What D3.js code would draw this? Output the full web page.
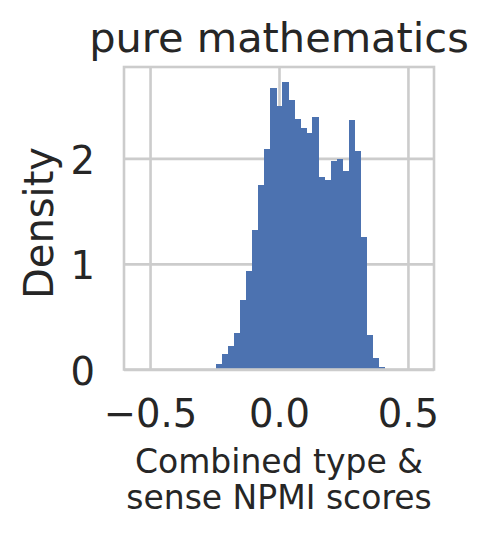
<!DOCTYPE html>
<html>
<head>
<meta charset="utf-8">
<script src="https://cdn.jsdelivr.net/npm/d3@7"></script>
<style>
  body { margin: 0; background: #fff; }
  text { font-family: "DejaVu Sans", sans-serif; fill: #262626; }
</style>
</head>
<body>
<svg id="chart" width="489" height="538"></svg>
<script>
// histogram bin edges (29 edges -> 28 bins)
const binEdges = [-0.2440, -0.2207, -0.1973, -0.1740, -0.1506, -0.1273, -0.1039, -0.0806,
                  -0.0572, -0.0339, -0.0105, 0.0129, 0.0362, 0.0596, 0.0829, 0.1063,
                  0.1296, 0.1530, 0.1763, 0.1997, 0.2230, 0.2464, 0.2697, 0.2931,
                  0.3164, 0.3398, 0.3631, 0.3865, 0.4098];
// density per bin
const densities = [0.054, 0.148, 0.218, 0.347, 0.662, 0.937, 1.322, 1.748,
                   2.088, 2.666, 2.495, 2.722, 2.552, 2.372, 2.287, 2.243,
                   2.391, 1.823, 1.795, 1.975, 1.994, 1.880, 2.363, 2.073,
                   1.259, 0.328, 0.110, 0.025];
const xTicks = [-0.5, 0.0, 0.5];
const yTicks = [0, 1, 2];
const title = "pure mathematics";
const yLabel = "Density";
const xLabelLines = ["Combined type &", "sense NPMI scores"];

const bins = densities.map((d, i) => ({x0: binEdges[i], x1: binEdges[i + 1], d: d}));

const margin = {left: 124, right: 434, top: 67, bottom: 369.5};
const width = margin.right - margin.left, height = margin.bottom - margin.top;
const gridColor = "#cccccc";

const svg = d3.select("#chart");
const g = svg.append("g").attr("transform", `translate(${margin.left},${margin.top})`);

const x = d3.scaleLinear().domain([-0.601, 0.601]).range([0, width]);
const y = d3.scaleLinear().domain([0, 2.865]).range([height, 0]);

// x grid + labels
const xAxis = g.append("g")
    .attr("transform", `translate(0,${height})`)
    .call(d3.axisBottom(x).tickValues(xTicks).tickFormat(d3.format(".1f"))
        .tickSizeInner(-height).tickSizeOuter(0).tickPadding(30));
xAxis.select(".domain").remove();
xAxis.selectAll("line").attr("stroke", gridColor).attr("stroke-width", 2.6);
xAxis.selectAll("text").attr("fill", "#262626").style("font-size", "38.5px")
    .style("font-family", "DejaVu Sans");

// y grid + labels
const yAxis = g.append("g")
    .call(d3.axisLeft(y).tickValues(yTicks).tickFormat(d3.format("d"))
        .tickSizeInner(-width).tickSizeOuter(0).tickPadding(29));
yAxis.select(".domain").remove();
yAxis.selectAll("line").attr("stroke", gridColor).attr("stroke-width", 2.6);
yAxis.selectAll("text").attr("fill", "#262626").attr("dy", "0.39em")
    .style("font-size", "38.5px").style("font-family", "DejaVu Sans");

// bars
g.selectAll("rect.bar")
  .data(bins)
  .join("rect")
    .attr("class", "bar")
    .attr("x", d => x(d.x0))
    .attr("width", d => x(d.x1) - x(d.x0) + 0.5)
    .attr("y", d => y(d.d))
    .attr("height", d => y(0) - y(d.d))
    .attr("shape-rendering", "crispEdges")
    .attr("fill", "#4c72b0");

// frame
g.append("rect")
    .attr("width", width).attr("height", height)
    .attr("fill", "none").attr("stroke", gridColor).attr("stroke-width", 2.6);

// title
svg.append("text")
    .attr("x", margin.left + width / 2).attr("y", 51.7)
    .attr("text-anchor", "middle")
    .style("font-size", "41.5px")
    .text(title);

// y label
svg.append("text")
    .attr("transform", "translate(53,223) rotate(-90)")
    .attr("text-anchor", "middle")
    .style("font-size", "40px")
    .text(yLabel);

// x label, two lines
svg.selectAll("text.xlabel")
  .data(xLabelLines)
  .join("text")
    .attr("class", "xlabel")
    .attr("x", 279)
    .attr("y", (d, i) => 472.7 + i * 36.3)
    .attr("text-anchor", "middle")
    .style("font-size", "33px")
    .text(d => d);
</script>
</body>
</html>
